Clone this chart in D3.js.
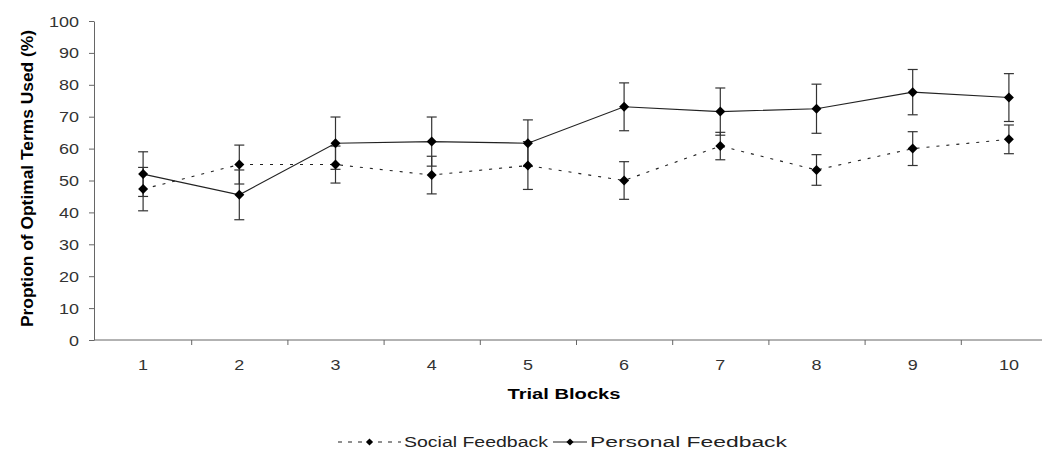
<!DOCTYPE html>
<html>
<head>
<meta charset="utf-8">
<script src="https://cdn.jsdelivr.net/npm/d3@7"></script>
<style>
  body { margin: 0; background: #fff; }
  text { font-family: "Liberation Sans", Arial, sans-serif; }
</style>
</head>
<body>
<svg id="chart" width="1051" height="451"></svg>
<script>
//**** DATA ****//
const blocks = [1, 2, 3, 4, 5, 6, 7, 8, 9, 10];
const yTicks = [0, 10, 20, 30, 40, 50, 60, 70, 80, 90, 100];

// Social Feedback (dotted line)
const socialMeans = [47.3, 55.0, 55.0, 51.7, 54.7, 50.0, 60.8, 53.3, 60.0, 62.9];
const socialErrors = [6.8, 6.1, 5.8, 5.9, 7.5, 5.9, 4.3, 4.8, 5.3, 4.5];

// Personal Feedback (solid line)
const personalMeans = [52.0, 45.5, 61.7, 62.2, 61.7, 73.1, 71.6, 72.5, 77.7, 76.0];
const personalErrors = [7.0, 7.8, 8.2, 7.7, 7.3, 7.5, 7.4, 7.7, 7.1, 7.5];

const series = [
  { name: 'Social Feedback', means: socialMeans, errors: socialErrors, dash: '3,7' },
  { name: 'Personal Feedback', means: personalMeans, errors: personalErrors, dash: null }
];

//**** LAYOUT ****//
const svg = d3.select('#chart');
const axisColor = '#666';

const x = d3.scaleBand()
    .domain(blocks)
    .range([95, 1057]);

const y = d3.scaleLinear()
    .domain([0, 100])
    .range([340, 21]);

const cx = d => x(d) + x.bandwidth() / 2;

//**** Y AXIS ****//
const yAxis = svg.append('g')
    .attr('transform', 'translate(94,0)')
    .call(d3.axisLeft(y).tickValues(yTicks).tickSize(5).tickSizeOuter(0));

yAxis.select('.domain').attr('stroke', axisColor);
yAxis.selectAll('.tick line').attr('stroke', axisColor);
yAxis.selectAll('.tick text')
    .attr('x', -15)
    .attr('dy', '0.36em')
    .style('font-size', '14px')
    .attr('fill', '#333')
    .each(function(d) {
      d3.select(this).attr('textLength', String(d).length * 10).attr('lengthAdjust', 'spacingAndGlyphs');
    });

//**** X AXIS ****//
const xAxis = svg.append('g').attr('transform', 'translate(0,340)');

xAxis.append('line')
    .attr('x1', 94).attr('x2', 1042)
    .attr('stroke', axisColor);

// ticks sit between the categories
xAxis.selectAll('.sep')
    .data(blocks.slice(1))
    .enter()
    .append('line')
    .attr('class', 'sep')
    .attr('x1', d => x(d) + 0.5).attr('x2', d => x(d) + 0.5)
    .attr('y1', 0).attr('y2', 5)
    .attr('stroke', axisColor);

xAxis.selectAll('.lbl')
    .data(blocks)
    .enter()
    .append('text')
    .attr('class', 'lbl')
    .attr('x', cx)
    .attr('y', 30)
    .attr('text-anchor', 'middle')
    .style('font-size', '14px')
    .attr('fill', '#333')
    .attr('textLength', d => String(d).length * 10)
    .attr('lengthAdjust', 'spacingAndGlyphs')
    .text(d => d);

//**** TITLES ****//
svg.append('text')
    .attr('x', 564)
    .attr('y', 399)
    .attr('text-anchor', 'middle')
    .style('font-size', '14px')
    .style('font-weight', 'bold')
    .attr('textLength', 113)
    .attr('lengthAdjust', 'spacingAndGlyphs')
    .text('Trial Blocks');

svg.append('text')
    .attr('transform', 'translate(33,178.5) rotate(-90)')
    .attr('text-anchor', 'middle')
    .style('font-size', '16px')
    .style('font-weight', 'bold')
    .attr('textLength', 297)
    .attr('lengthAdjust', 'spacingAndGlyphs')
    .text('Proption of Optimal Terms Used (%)');

//**** ERROR BARS ****//
const capHalf = 5;
series.forEach(s => {
  const g = svg.append('g').attr('stroke', '#333').attr('stroke-width', 1.2);
  blocks.forEach((b, i) => {
    const hi = y(s.means[i] + s.errors[i]);
    const lo = y(s.means[i] - s.errors[i]);
    g.append('line').attr('x1', cx(b)).attr('x2', cx(b)).attr('y1', hi).attr('y2', lo);
    g.append('line').attr('x1', cx(b) - capHalf).attr('x2', cx(b) + capHalf).attr('y1', hi).attr('y2', hi);
    g.append('line').attr('x1', cx(b) - capHalf).attr('x2', cx(b) + capHalf).attr('y1', lo).attr('y2', lo);
  });
});

//**** LINES ****//
const line = d3.line()
    .x((d, i) => cx(blocks[i]))
    .y(d => y(d));

series.forEach(s => {
  svg.append('path')
      .datum(s.means)
      .attr('d', line)
      .attr('fill', 'none')
      .attr('stroke', '#222')
      .attr('stroke-width', 1.1)
      .attr('stroke-dasharray', s.dash);
});

//**** MARKERS ****//
const diamond = d3.symbol().type(d3.symbolSquare).size(50);
series.forEach(s => {
  svg.append('g')
      .selectAll('path')
      .data(s.means)
      .enter()
      .append('path')
      .attr('d', diamond)
      .attr('transform', (d, i) => 'translate(' + cx(blocks[i]) + ',' + y(d) + ') rotate(45)')
      .attr('fill', '#000');
});

//**** LEGEND ****//
const legendItems = [
  { name: 'Social Feedback', dash: '4,6', x1: 338, x2: 401, width: 144 },
  { name: 'Personal Feedback', dash: null, x1: 553, x2: 587, width: 197 }
];
const legendY = 442;
const smallDiamond = d3.symbol().type(d3.symbolSquare).size(26);

legendItems.forEach(item => {
  const g = svg.append('g');
  g.append('line')
      .attr('x1', item.x1).attr('x2', item.x2)
      .attr('y1', legendY).attr('y2', legendY)
      .attr('stroke', '#222')
      .attr('stroke-width', 1.2)
      .attr('stroke-dasharray', item.dash);
  g.append('path')
      .attr('d', smallDiamond)
      .attr('transform', 'translate(' + (item.x1 + item.x2) / 2 + ',' + legendY + ') rotate(45)')
      .attr('fill', '#000');
  g.append('text')
      .attr('x', item.x2 + 3)
      .attr('y', 446.5)
      .style('font-size', '14px')
      .attr('fill', '#222')
      .attr('textLength', item.width)
      .attr('lengthAdjust', 'spacingAndGlyphs')
      .text(item.name);
});
</script>
</body>
</html>
